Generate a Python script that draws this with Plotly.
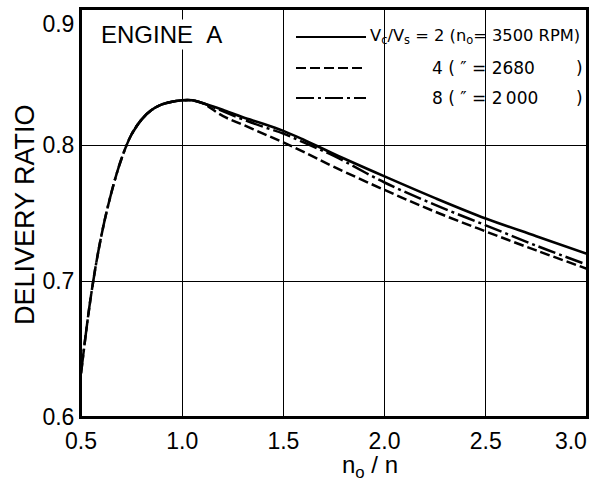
import plotly.graph_objects as go

# ---- data ----
x_rise = [0.50, 0.55, 0.60, 0.65, 0.70, 0.75, 0.80, 0.85, 0.90, 0.95, 1.00, 1.05, 1.10]
y_rise = [0.632, 0.690, 0.733, 0.765, 0.790, 0.808, 0.819, 0.826, 0.830, 0.832, 0.833, 0.833, 0.831]

x_tail = [1.20, 1.30, 1.40, 1.50, 1.60, 1.75, 2.00, 2.25, 2.50, 2.75, 3.00]
y_vc2 = [0.826, 0.8205, 0.8158, 0.8105, 0.8040, 0.7935, 0.7770, 0.7610, 0.7460, 0.7330, 0.7200]
y_vc4 = [0.8215, 0.8150, 0.8085, 0.8020, 0.7950, 0.7840, 0.7670, 0.7510, 0.7365, 0.7225, 0.7090]
y_vc8 = [0.8250, 0.8190, 0.8135, 0.8085, 0.8020, 0.7920, 0.7725, 0.7560, 0.7410, 0.7260, 0.7120]

x_ticks = [0.5, 1.0, 1.5, 2.0, 2.5, 3.0]
x_ticklabels = ["0.5", "1.0", "1.5", "2.0", "2.5", "3.0" + "\u00a0" * 5]
y_ticks = [0.6, 0.7, 0.8, 0.9]
y_ticklabels = ["0.6", "0.7", "0.8", "\u00a0<br>0.9"]

legend_rows = ["V<sub>c</sub>/V<sub>s</sub> = 2 (n<sub>o</sub>= 3500 RPM)",
               "4 ( \u2033 = 2680",
               "8 ( \u2033 = 2\u2009000"]

FONT = "Liberation Sans"
LFONT = "DejaVu Sans"
W, H = 601, 482
L, R, T, B = 81, 14, 9, 65
pw, ph = W - L - R, H - T - B

def px_x(p):
    return (p - L) / pw

def px_y(p):
    return (H - B - p) / ph

fig = go.Figure()
solid_start = 5
fig.add_trace(go.Scatter(x=x_rise + x_tail, y=y_rise + y_vc4, mode="lines",
                         line=dict(color="black", width=2.5, dash="10px,4px", shape="spline"),
                         showlegend=False))
fig.add_trace(go.Scatter(x=x_rise + x_tail, y=y_rise + y_vc8, mode="lines",
                         line=dict(color="black", width=2.5, dash="18px,4px,3px,4px", shape="spline"),
                         showlegend=False))
fig.add_trace(go.Scatter(x=x_rise[solid_start:] + x_tail, y=y_rise[solid_start:] + y_vc2, mode="lines",
                         line=dict(color="black", width=2.6, shape="spline"),
                         showlegend=False))

# white box behind legend (hides grid lines), plot frame, and legend samples
shapes = [
    dict(type="rect", xref="paper", yref="paper", x0=px_x(293), x1=px_x(585),
         y0=px_y(132), y1=px_y(10), fillcolor="white", line=dict(width=0), layer="between"),
    dict(type="rect", xref="paper", yref="paper", x0=0, x1=1, y0=0, y1=1,
         line=dict(color="black", width=2), layer="above"),
]
rows_y = [37, 68, 98]
dashes = ["solid", "10px,4px", "18px,4px,3px,4px"]
for ry, d in zip(rows_y, dashes):
    shapes.append(dict(type="line", xref="paper", yref="paper", x0=px_x(296), x1=px_x(366),
                       y0=px_y(ry), y1=px_y(ry), line=dict(color="black", width=2, dash=d)))

ann = [
    dict(text="ENGINE\u00a0\u00a0A", xref="paper", yref="paper", x=px_x(99), y=px_y(34),
         xanchor="left", yanchor="middle", showarrow=False, bgcolor="white",
         font=dict(family=FONT, size=24, color="black")),
    dict(text="DELIVERY RATIO", xref="paper", yref="paper", x=px_x(25), y=px_y(215),
         xanchor="center", yanchor="middle", textangle=-90, showarrow=False,
         font=dict(family=FONT, size=27, color="black")),
    dict(text="n<sub>o</sub> / n", xref="paper", yref="paper", x=px_x(370), y=px_y(466),
         xanchor="center", yanchor="middle", showarrow=False,
         font=dict(family=FONT, size=24, color="black")),
    dict(text=legend_rows[0], xref="paper", yref="paper", x=px_x(368), y=px_y(37),
         xanchor="left", yanchor="middle", showarrow=False,
         font=dict(family=LFONT, size=16.3, color="black")),
    dict(text=legend_rows[1], xref="paper", yref="paper", x=px_x(430), y=px_y(68),
         xanchor="left", yanchor="middle", showarrow=False,
         font=dict(family=LFONT, size=17, color="black")),
    dict(text=legend_rows[2], xref="paper", yref="paper", x=px_x(430), y=px_y(98),
         xanchor="left", yanchor="middle", showarrow=False,
         font=dict(family=LFONT, size=17, color="black")),
    dict(text=")", xref="paper", yref="paper", x=px_x(585), y=px_y(68),
         xanchor="right", yanchor="middle", showarrow=False,
         font=dict(family=LFONT, size=17, color="black")),
    dict(text=")", xref="paper", yref="paper", x=px_x(585), y=px_y(98),
         xanchor="right", yanchor="middle", showarrow=False,
         font=dict(family=LFONT, size=17, color="black")),
]

fig.update_layout(
    width=W, height=H,
    margin=dict(l=L, r=R, t=T, b=B, autoexpand=False),
    paper_bgcolor="white", plot_bgcolor="white",
    showlegend=False,
    shapes=shapes, annotations=ann,
    xaxis=dict(range=[0.4999, 3.0005], tickvals=x_ticks, ticktext=x_ticklabels,
               showgrid=True, gridcolor="black", gridwidth=1.2,
               showline=True, linecolor="black", linewidth=2, mirror=True,
               ticks="", zeroline=False, ticklabelstandoff=2, ticklabeloverflow="allow",
               automargin=False,
               tickfont=dict(family=FONT, size=23, color="black")),
    yaxis=dict(range=[0.5999, 0.9002], tickvals=y_ticks, ticktext=y_ticklabels,
               showgrid=True, gridcolor="black", gridwidth=1.2,
               showline=True, linecolor="black", linewidth=2, mirror=True,
               ticks="", zeroline=False, ticklabeloverflow="allow",
               automargin=False,
               tickfont=dict(family=FONT, size=23, color="black")),
)

fig.write_html("out.html", config={"displayModeBar": False},
               post_script="document.documentElement.style.overflow='hidden';document.body.style.margin='0';document.body.style.overflow='hidden';")
